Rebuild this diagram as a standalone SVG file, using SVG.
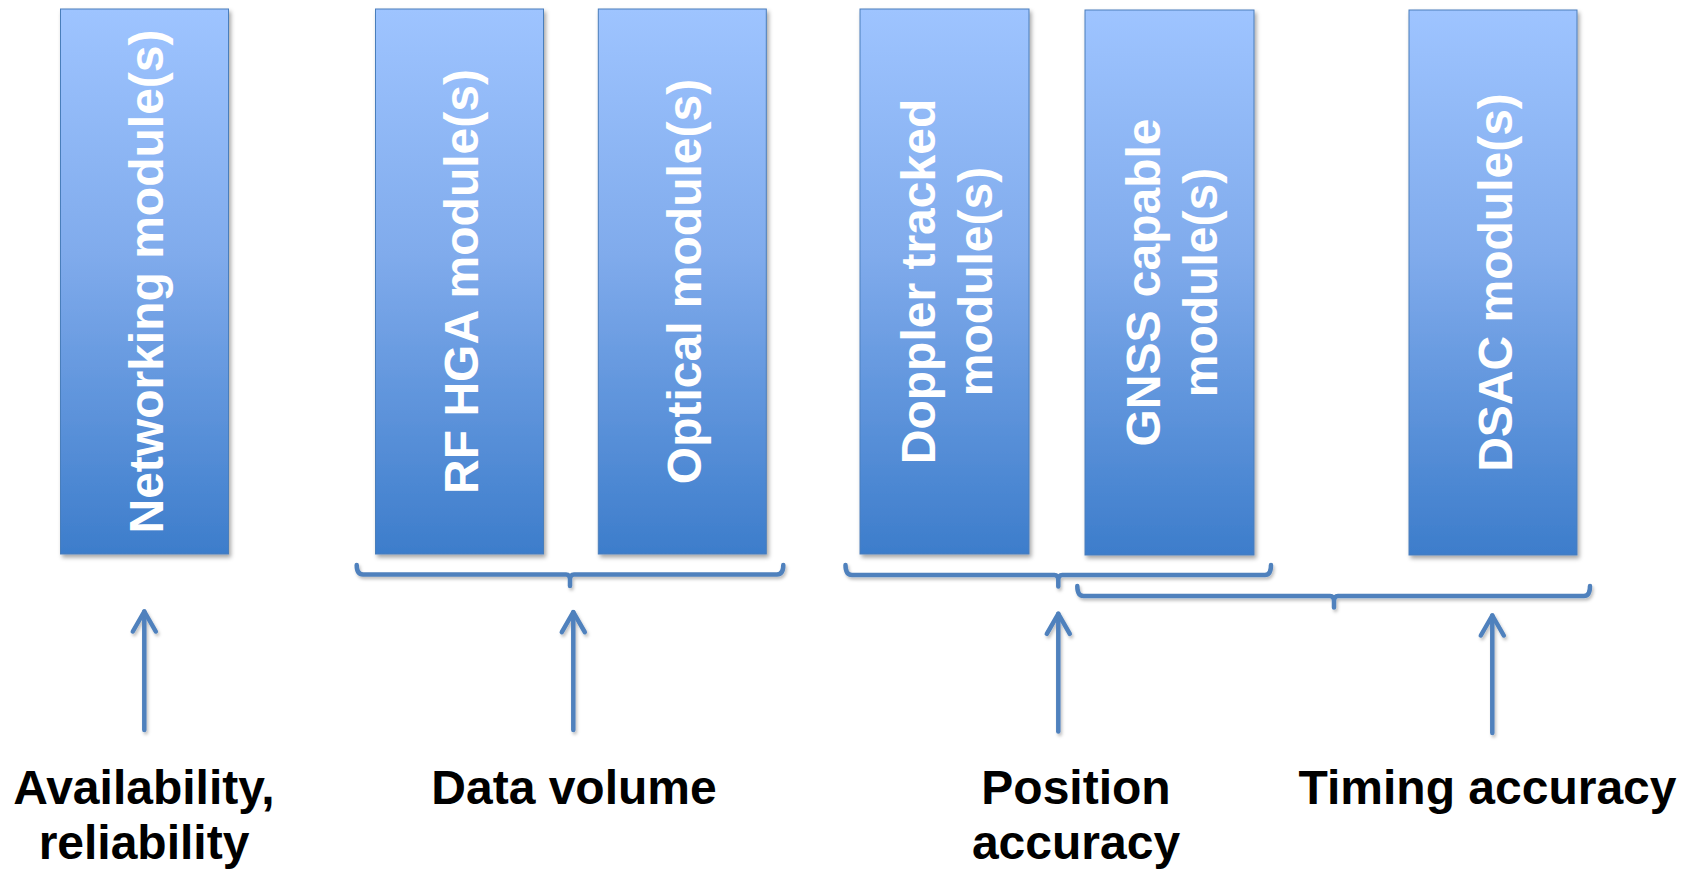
<svg xmlns="http://www.w3.org/2000/svg" width="1696" height="870" viewBox="0 0 1696 870">
  <defs>
    <linearGradient id="boxGrad" x1="0" y1="0" x2="0" y2="1">
      <stop offset="0" stop-color="#9EC4FF"/>
      <stop offset="0.45" stop-color="#80ABEC"/>
      <stop offset="1" stop-color="#3D7DCB"/>
    </linearGradient>
    <filter id="shadow" x="-10%" y="-10%" width="130%" height="130%">
      <feDropShadow dx="2" dy="3" stdDeviation="2" flood-color="#000" flood-opacity="0.35"/>
    </filter>
    <filter id="lshadow" x="-10%" y="-30%" width="130%" height="160%">
      <feDropShadow dx="1.5" dy="2.5" stdDeviation="1.5" flood-color="#000" flood-opacity="0.25"/>
    </filter>
    <marker id="ah" markerUnits="userSpaceOnUse" markerWidth="40" markerHeight="40" viewBox="-30 -20 40 40" refX="0" refY="0" orient="auto" overflow="visible">
      <path d="M-20,-11.5 L0,0 L-20,11.5" fill="none" stroke="#4F81BD" stroke-width="4.5" stroke-linecap="round" stroke-linejoin="round"/>
    </marker>
    <style>
      .box { fill: url(#boxGrad); stroke: #4A7EBB; stroke-width: 1; filter: url(#shadow); }
      .btxt { font-family: "Liberation Sans", Arial, sans-serif; font-weight: bold; font-size: 48px; fill: #FFFFFF; text-anchor: middle; }
      .lbl { font-family: "Liberation Sans", Arial, sans-serif; font-weight: bold; font-size: 48px; fill: #000000; text-anchor: middle; }
      .brace { fill: none; stroke: #4F81BD; stroke-width: 4.5; stroke-linecap: round; stroke-linejoin: round; }
      .arrow { fill: none; stroke: #4F81BD; stroke-width: 4.5; stroke-linecap: round; marker-end: url(#ah); }
    </style>
  </defs>

  <rect width="1696" height="870" fill="#FFFFFF"/>

  <g id="node-networking">
    <rect class="box" x="60.5" y="9" width="168" height="545"/>
    <text class="btxt" transform="translate(144.5,281.5) rotate(-90)" x="0" y="18.6">Networking module(s)</text>
  </g>

  <g id="node-rfhga">
    <rect class="box" x="375.5" y="9" width="168" height="545"/>
    <text class="btxt" transform="translate(459.5,281.5) rotate(-90)" x="0" y="18.6">RF HGA module(s)</text>
  </g>

  <g id="node-optical">
    <rect class="box" x="598.3" y="9" width="168" height="545"/>
    <text class="btxt" transform="translate(682.3,281.5) rotate(-90)" x="0" y="18.6">Optical module(s)</text>
  </g>

  <g id="node-doppler">
    <rect class="box" x="860" y="9" width="169" height="545"/>
    <text class="btxt" transform="translate(944.5,281.5) rotate(-90)" x="0" y="-9.9">Doppler tracked</text>
    <text class="btxt" transform="translate(944.5,281.5) rotate(-90)" x="0" y="47.1">module(s)</text>
  </g>

  <g id="node-gnss">
    <rect class="box" x="1085" y="10" width="169" height="545"/>
    <text class="btxt" transform="translate(1169.5,282.5) rotate(-90)" x="0" y="-9.9">GNSS capable</text>
    <text class="btxt" transform="translate(1169.5,282.5) rotate(-90)" x="0" y="47.1">module(s)</text>
  </g>

  <g id="node-dsac">
    <rect class="box" x="1409" y="10" width="168" height="545"/>
    <text class="btxt" transform="translate(1493,282.5) rotate(-90)" x="0" y="18.6">DSAC module(s)</text>
  </g>

  <g id="connectors" filter="url(#lshadow)">
    <path class="brace" d="M356.7,565 Q356.7,574.5 363,574.5 L566,574.5 Q570,574.5 570,580 L570,586 M570,580 Q570,574.5 574,574.5 L777,574.5 Q783.3,574.5 783.3,565"/>
    <path class="brace" d="M845.5,565 Q845.5,575 852,575 L1054.3,575 Q1058.3,575 1058.3,580.5 L1058.3,586.5 M1058.3,580.5 Q1058.3,575 1062.3,575 L1265,575 Q1271,575 1271,565"/>
    <path class="brace" d="M1077.3,586 Q1077.3,596 1083.5,596 L1330,596 Q1334,596 1334,601.5 L1334,607.5 M1334,601.5 Q1334,596 1338,596 L1584,596 Q1590,596 1590,586"/>
    <line class="arrow" x1="144.3" y1="730" x2="144.3" y2="611.5"/>
    <line class="arrow" x1="573.3" y1="730" x2="573.3" y2="612.2"/>
    <line class="arrow" x1="1058.3" y1="731.5" x2="1058.3" y2="613.8"/>
    <line class="arrow" x1="1492.3" y1="733" x2="1492.3" y2="615.5"/>
  </g>

  <g id="label-availability">
    <text class="lbl" x="144" y="804">Availability,</text>
    <text class="lbl" x="144" y="859">reliability</text>
  </g>
  <g id="label-datavolume">
    <text class="lbl" x="574" y="804">Data volume</text>
  </g>
  <g id="label-position">
    <text class="lbl" x="1076" y="804">Position</text>
    <text class="lbl" x="1076" y="859">accuracy</text>
  </g>
  <g id="label-timing">
    <text class="lbl" x="1487.5" y="804">Timing accuracy</text>
  </g>
</svg>
